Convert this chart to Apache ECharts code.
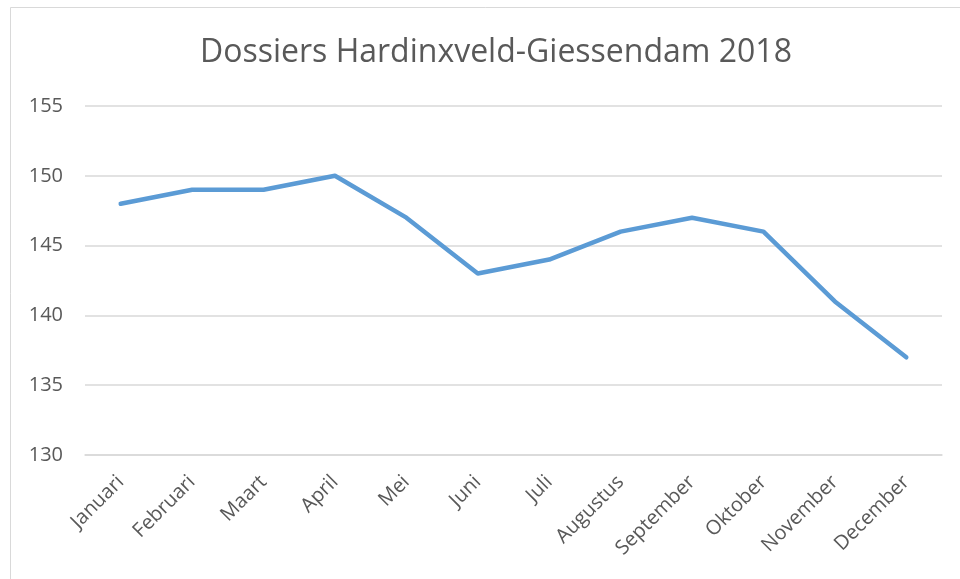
<!DOCTYPE html>
<html>
<head>
<meta charset="utf-8">
<script src="https://cdn.jsdelivr.net/npm/echarts@6/dist/echarts.min.js"></script>
<style>
  html, body { margin: 0; padding: 0; background: #fff; }
  #chart { width: 960px; height: 579px; }
</style>
</head>
<body>
<div id="chart"></div>
<script>
// maanden en aantallen dossiers
const maanden = ['Januari', 'Februari', 'Maart', 'April', 'Mei', 'Juni', 'Juli',
    'Augustus', 'September', 'Oktober', 'November', 'December'];
const dossiers = [148, 149, 149, 150, 147, 143, 144, 146, 147, 146, 141, 137];
const titel = 'Dossiers Hardinxveld-Giessendam 2018';

const myChart = echarts.init(document.getElementById('chart'), null, {renderer: 'canvas'});
myChart.setOption({
    animation: false,
    backgroundColor: '#fff',
    textStyle: { fontFamily: 'Open Sans' },
    graphic: [{
        type: 'rect',
        shape: { x: 10.5, y: 7.5, width: 960, height: 600 },
        style: { fill: 'none', stroke: '#d9d9d9', lineWidth: 1 },
        silent: true
    }],
    title: {
        text: titel,
        left: 195,
        top: 32,
        textStyle: {
            fontFamily: 'Open Sans',
            fontSize: 32,
            fontWeight: 'normal',
            color: '#595959'
        }
    },
    grid: { left: 85, right: 18, top: 106, bottom: 124 },
    xAxis: {
        type: 'category',
        data: maanden,
        boundaryGap: true,
        axisLine: { lineStyle: { color: '#d9d9d9', width: 1.5 } },
        axisTick: { show: false },
        axisLabel: {
            rotate: 45,
            color: '#595959',
            fontSize: 20,
            margin: 24,
            interval: 0
        }
    },
    yAxis: {
        type: 'value',
        min: 130,
        max: 155,
        interval: 5,
        axisLine: { show: false },
        axisTick: { show: false },
        axisLabel: { color: '#595959', fontSize: 20, margin: 22 },
        splitLine: { lineStyle: { color: '#d9d9d9', width: 1.5 } }
    },
    series: [{
        type: 'line',
        data: dossiers,
        symbol: 'none',
        lineStyle: { color: '#5b9bd5', width: 4.5, cap: 'round', join: 'round' }
    }]
});
</script>
</body>
</html>
